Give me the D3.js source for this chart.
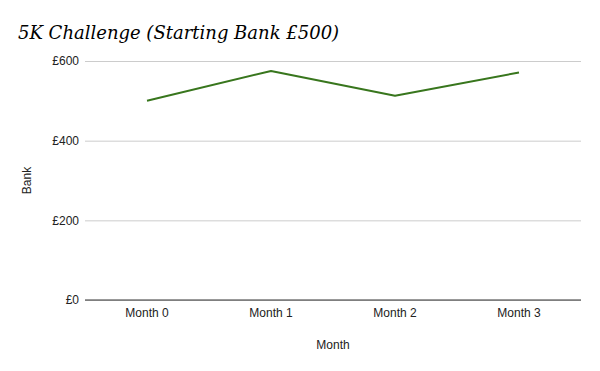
<!DOCTYPE html>
<html><head><meta charset="utf-8">
<script src="https://cdn.jsdelivr.net/npm/d3@7"></script>
<style>body{margin:0;background:#fff}</style>
</head><body>
<svg id="c" width="600" height="371"></svg>
<script>
const categories = ["Month 0", "Month 1", "Month 2", "Month 3"];
const bankValues = [500, 575, 513, 571];
const yTicks = [0, 200, 400, 600];

const svg = d3.select("#c");
const m = {left: 85, right: 19, top: 61, bottom: 71};
const W = 600, H = 371;
const x = d3.scaleBand().domain(categories).range([m.left, W - m.right]);
const y = d3.scaleLinear().domain([0, 600]).range([H - m.bottom, m.top]);

svg.append("rect").attr("width", W).attr("height", H).attr("fill", "#fff");

// gridlines
const yAxis = d3.axisLeft(y).tickValues(yTicks).tickSize(-(W - m.left - m.right)).tickFormat(d => "£" + d);
const gy = svg.append("g").attr("transform", `translate(${m.left},0)`).call(yAxis);
gy.select(".domain").remove();
gy.selectAll("line").attr("stroke", "#cccccc");
gy.selectAll("text").attr("x", -6).attr("font-family", "Liberation Sans, Arial, sans-serif").attr("font-size", 12).attr("fill", "#222");

// baseline
const xAxis = d3.axisBottom(x).tickSize(0).tickPadding(8);
const gx = svg.append("g").attr("transform", `translate(0,${y(0)})`).call(xAxis);
gx.select(".domain").attr("stroke", "#333").attr("d", `M${m.left},0H${W - m.right}`);
gx.selectAll("text").attr("font-family", "Liberation Sans, Arial, sans-serif").attr("font-size", 12).attr("fill", "#222");

// line
const line = d3.line().x((d, i) => x(categories[i]) + x.bandwidth() / 2).y(d => y(d));
svg.append("path").datum(bankValues).attr("d", line).attr("fill", "none")
  .attr("stroke", "#38761d").attr("stroke-width", 2).attr("stroke-linejoin", "round");

// title
svg.append("text").attr("x", 18).attr("y", 39).text("5K Challenge (Starting Bank £500)")
  .attr("font-family", "DejaVu Serif, Georgia, serif").attr("font-style", "italic")
  .attr("font-size", 18).attr("fill", "#000");

// axis titles
svg.append("text").attr("x", (m.left + W - m.right) / 2).attr("y", 349).attr("text-anchor", "middle")
  .attr("font-family", "Liberation Sans, Arial, sans-serif").attr("font-size", 12).attr("fill", "#222").text("Month");
svg.append("text").attr("transform", `translate(31,${(y(0) + y(600)) / 2}) rotate(-90)`).attr("text-anchor", "middle")
  .attr("font-family", "Liberation Sans, Arial, sans-serif").attr("font-size", 12).attr("fill", "#222").text("Bank");
</script>
</body></html>
